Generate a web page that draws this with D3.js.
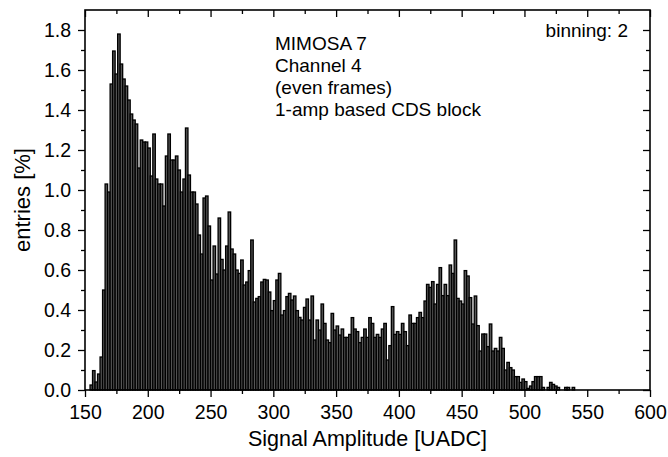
<!DOCTYPE html>
<html>
<head>
<meta charset="utf-8">
<script src="https://cdn.jsdelivr.net/npm/d3@7.9.0/dist/d3.min.js"></script>
<style>
  html, body { margin: 0; padding: 0; background: #fff; }
  svg { display: block; font-family: Arial, "Liberation Sans", sans-serif; }
</style>
</head>
<body>
<svg id="chart" width="668" height="457"></svg>
<script>
// histogram, binning 2, first bin starts at 154
const binStart = 154;
const binWidth = 2;
const entries = [
  0.025, 0.097, 0.04, 0.08, 0.165, 0.50, 1.03, 0.99, 1.53, 1.695,
  1.58, 1.78, 1.63, 1.555, 1.52, 1.45, 1.38, 1.35, 1.33, 1.11,
  1.25, 1.24, 1.24, 1.21, 1.07, 1.28, 1.055, 1.03, 1.03, 0.92,
  1.17, 1.28, 1.15, 1.15, 1.17, 1.10, 0.99, 1.055, 1.31, 1.075,
  0.99, 0.99, 0.93, 0.775, 0.68, 0.96, 0.97, 0.82, 0.55, 0.72,
  0.58, 0.86,
  0.653, 0.60, 0.72, 0.89, 0.705, 0.68, 0.60, 0.583, 0.65, 0.525,
  0.54, 0.597, 0.75, 0.44, 0.458, 0.467, 0.54, 0.553, 0.55, 0.49,
  0.397, 0.447, 0.55, 0.583, 0.375, 0.397, 0.467, 0.483, 0.45, 0.47,
  0.397, 0.363, 0.35, 0.413, 0.455, 0.35, 0.47, 0.25, 0.35, 0.30,
  0.43, 0.333, 0.25, 0.237, 0.383, 0.30, 0.32, 0.275,
  0.305, 0.263, 0.263, 0.278, 0.362, 0.305, 0.292, 0.237, 0.263, 0.305,
  0.263, 0.362, 0.333, 0.263, 0.278, 0.263, 0.305, 0.333, 0.15, 0.222,
  0.417, 0.278, 0.292, 0.278, 0.333, 0.292, 0.222, 0.375, 0.333, 0.333,
  0.362, 0.388, 0.362, 0.445, 0.528, 0.513, 0.542, 0.43, 0.528, 0.612,
  0.472, 0.528, 0.472, 0.625, 0.583, 0.75, 0.458, 0.445, 0.43, 0.597,
  0.57,
  0.462, 0.33, 0.47, 0.322, 0.195, 0.28, 0.28, 0.217, 0.33, 0.195,
  0.208, 0.195, 0.263, 0.208, 0.10, 0.138, 0.112, 0.10, 0.067, 0.067,
  0.038, 0.055, 0.042, 0.008, 0.02, 0.042, 0.067, 0.067, 0.067, 0.013,
  0.0, 0.013, 0.038, 0.028, 0.02, 0.013, 0.0, 0.0, 0.013, 0.013,
  0.0, 0.013
];
const xMajor = [150, 200, 250, 300, 350, 400, 450, 500, 550, 600];
const xMinor = [175, 225, 275, 325, 375, 425, 475, 525, 575];
const yMajor = [0.0, 0.2, 0.4, 0.6, 0.8, 1.0, 1.2, 1.4, 1.6, 1.8];
const yMinor = [0.1, 0.3, 0.5, 0.7, 0.9, 1.1, 1.3, 1.5, 1.7];
const notes = ['MIMOSA 7', 'Channel 4', '(even frames)', '1-amp based CDS block'];

const svg = d3.select('#chart');
const L = 85, R = 650, T = 10, B = 390;

const x = d3.scaleLinear().domain([150, 600]).range([L, R]);
const y = d3.scaleLinear().domain([0, 1.9]).range([B, T]);

const bins = entries.map((v, i) => ({ x0: binStart + i * binWidth, v }));

svg.append('g')
  .selectAll('rect')
  .data(bins.filter(d => d.v > 0))
  .join('rect')
    .attr('x', d => x(d.x0))
    .attr('width', d => x(d.x0 + binWidth) - x(d.x0))
    .attr('y', d => y(d.v))
    .attr('height', d => y(0) - y(d.v))
    .attr('fill', '#555')
    .attr('stroke', '#000')
    .attr('stroke-width', 1.3);

// axes
const axBottom = svg.append('g').attr('transform', `translate(0,${B})`);
axBottom.call(d3.axisBottom(x).tickValues(xMajor).tickSize(7).tickFormat(d3.format('d')));
axBottom.append('g').call(d3.axisBottom(x).tickValues(xMinor).tickSize(4).tickFormat(''));

const axLeft = svg.append('g').attr('transform', `translate(${L},0)`);
axLeft.call(d3.axisLeft(y).tickValues(yMajor).tickSize(7).tickFormat(d3.format('.1f')));
axLeft.append('g').call(d3.axisLeft(y).tickValues(yMinor).tickSize(4).tickFormat(''));

const axTop = svg.append('g').attr('transform', `translate(0,${T})`);
axTop.call(d3.axisBottom(x).tickValues(xMajor).tickSize(7).tickFormat(''));
axTop.append('g').call(d3.axisBottom(x).tickValues(xMinor).tickSize(4).tickFormat(''));

const axRight = svg.append('g').attr('transform', `translate(${R},0)`);
axRight.call(d3.axisLeft(y).tickValues(yMajor).tickSize(7).tickFormat(''));
axRight.append('g').call(d3.axisLeft(y).tickValues(yMinor).tickSize(4).tickFormat(''));

svg.selectAll('.domain').remove();
svg.selectAll('.tick line').attr('stroke', '#000').attr('stroke-width', 1.3);
svg.selectAll('.tick text').attr('fill', '#000').style('font-size', '19.5px');
axBottom.selectAll('.tick text').attr('dy', '0.95em');
axLeft.selectAll('.tick text').attr('dx', '-0.2em');

svg.append('rect')
  .attr('x', L).attr('y', T)
  .attr('width', R - L).attr('height', B - T)
  .attr('fill', 'none').attr('stroke', '#000').attr('stroke-width', 1.6);

// titles
svg.append('text')
  .attr('x', (L + R) / 2).attr('y', 446)
  .attr('text-anchor', 'middle').style('font-size', '21.5px')
  .text('Signal Amplitude [UADC]');

svg.append('text')
  .attr('transform', `translate(30,${(T + B) / 2}) rotate(-90)`)
  .attr('text-anchor', 'middle').style('font-size', '22px')
  .text('entries [%]');

svg.append('text')
  .attr('x', 628).attr('y', 37)
  .attr('text-anchor', 'end').style('font-size', '19px')
  .text('binning: 2');

svg.append('g').selectAll('text')
  .data(notes)
  .join('text')
    .attr('x', 275)
    .attr('y', (d, i) => 50 + i * 22)
    .style('font-size', '19px')
    .text(d => d);
</script>
</body>
</html>
